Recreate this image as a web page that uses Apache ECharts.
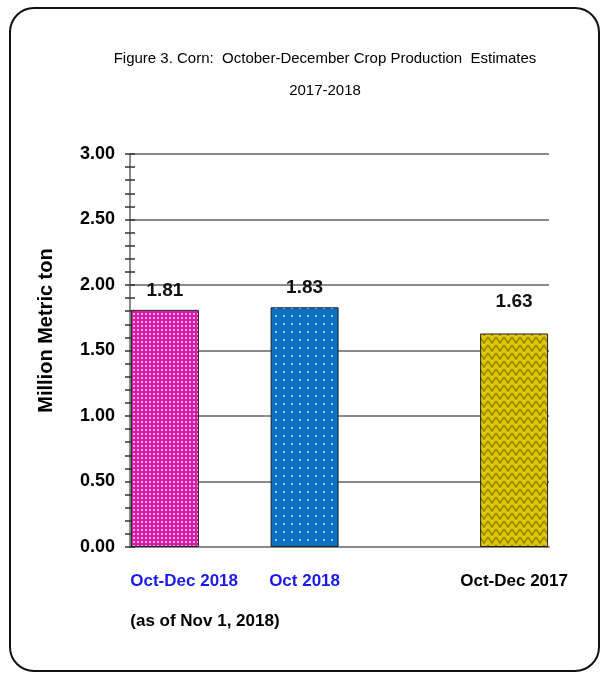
<!DOCTYPE html>
<html><head><meta charset="utf-8">
<script src="https://cdn.jsdelivr.net/npm/echarts@6/dist/echarts.min.js"></script>
<style>html,body{margin:0;padding:0;background:#fff}#c{width:601px;height:675px}</style>
</head><body><div id="c"></div>
<script>
// ---- data ----
const categories = ['Oct-Dec 2018', '', 'Oct 2018', '', '', 'Oct-Dec 2017'];
const subLabels = ['(as of Nov 1, 2018)', '', '', '', '', ''];
const values = [1.81, null, 1.83, null, null, 1.63];
const yMin = 0, yMax = 3, yInterval = 0.5;
const titleLines = ['Figure 3. Corn:  October-December Crop Production  Estimates', '2017-2018'];
const yName = 'Million Metric ton';

// ---- styles ----
const SANS = '"Liberation Sans", Arial, sans-serif';
function makePattern(w, h, bg, draw) {
  const c = document.createElement('canvas');
  c.width = w; c.height = h;
  const ctx = c.getContext('2d');
  ctx.fillStyle = bg; ctx.fillRect(0, 0, w, h);
  draw(ctx);
  return { image: c, repeat: 'repeat' };
}
const pink = makePattern(4, 4, '#d81ca8', ctx => { ctx.fillStyle = '#f3a8e2'; ctx.fillRect(1, 1, 2, 2); });
const blue = makePattern(8, 8, '#0b6fc2', ctx => { ctx.fillStyle = '#9cc8ee'; ctx.fillRect(3, 3, 2, 2); });
const gold = makePattern(8, 8, '#e8c400', ctx => {
  ctx.strokeStyle = '#8f9200'; ctx.lineWidth = 1.8;
  ctx.beginPath(); ctx.moveTo(0, 1); ctx.lineTo(4, 7); ctx.lineTo(8, 1); ctx.stroke();
});
const fills = [pink, null, blue, null, null, gold];
const labelKeys = ['b', 'b', 'b', 'k', 'k', 'k'];
const labelDistance = [10, 10, 10, 10, 10, 22];

const chart = echarts.init(document.getElementById('c'), null, { renderer: 'canvas' });
const seriesData = values.map((v, i) => v == null ? '-' : {
  value: v,
  itemStyle: { color: fills[i] },
  label: { distance: labelDistance[i] }
});
const catFont = { fontFamily: SANS, fontSize: 17, fontWeight: 'bold', lineHeight: 40 };

chart.setOption({
  animation: false,
  backgroundColor: '#fff',
  title: {
    text: titleLines.join('\n'),
    left: 320, top: 38, textAlign: 'center',
    textStyle: { fontFamily: SANS, fontSize: 15, fontWeight: 'normal', color: '#000', lineHeight: 32 }
  },
  graphic: [{
    type: 'rect', z: -10,
    shape: { x: 10, y: 8, width: 589, height: 663, r: 24 },
    style: { fill: 'none', stroke: '#111', lineWidth: 2 }
  }],
  grid: { left: 130, right: 52, top: 154, bottom: 128, containLabel: false },
  xAxis: {
    type: 'category',
    data: categories,
    axisLine: { lineStyle: { color: '#8a8a8a', width: 2 } },
    axisTick: { show: false },
    axisLabel: {
      interval: 0, margin: 14,
      formatter: (v, i) => {
        if (!v) return '';
        if (subLabels[i]) return '{bp|' + v + '}\n{sp|' + subLabels[i] + '}';
        return '{' + labelKeys[i] + '|' + v + '}';
      },
      rich: {
        b: Object.assign({ color: '#1a1aee' }, catFont),
        k: Object.assign({ color: '#000' }, catFont),
        bp: Object.assign({ color: '#1a1aee', align: 'left', padding: [0, 0, 0, 80] }, catFont),
        sp: Object.assign({ color: '#000', align: 'left', padding: [0, 0, 0, 80] }, catFont)
      }
    }
  },
  yAxis: [{
    type: 'value', min: yMin, max: yMax, interval: yInterval, position: 'left',
    name: yName, nameLocation: 'middle', nameGap: 74, nameRotate: 90,
    nameTextStyle: { fontFamily: SANS, fontSize: 20, fontWeight: 'bold', color: '#000', padding: [0, 0, 0, 40] },
    axisLine: { show: true, lineStyle: { color: '#8a8a8a', width: 2 } },
    axisTick: { show: true, length: 5, lineStyle: { color: '#333', width: 1.5 } },
    minorTick: { show: true, splitNumber: 5, length: 5, lineStyle: { color: '#333', width: 1.5 } },
    splitLine: { show: true, lineStyle: { color: '#8a8a8a', width: 2 } },
    axisLabel: {
      margin: 15, formatter: v => v.toFixed(2),
      fontFamily: SANS, fontSize: 18, fontWeight: 'bold', color: '#000'
    }
  }, {
    type: 'value', min: yMin, max: yMax, interval: yInterval, position: 'left', offset: 0,
    axisLine: { show: false },
    axisTick: { show: true, inside: true, length: 5, lineStyle: { color: '#333', width: 1.5 } },
    minorTick: { show: true, splitNumber: 5, length: 5, lineStyle: { color: '#333', width: 1.5 } },
    splitLine: { show: false },
    axisLabel: { show: false }
  }],
  series: [{
    type: 'bar', barWidth: 68,
    data: seriesData,
    itemStyle: { borderColor: '#222', borderWidth: 1 },
    label: {
      show: true, position: 'top', distance: 10,
      formatter: p => p.value.toFixed(2),
      fontFamily: SANS, fontSize: 19, fontWeight: 'bold', color: '#111'
    }
  }]
});
</script></body></html>
